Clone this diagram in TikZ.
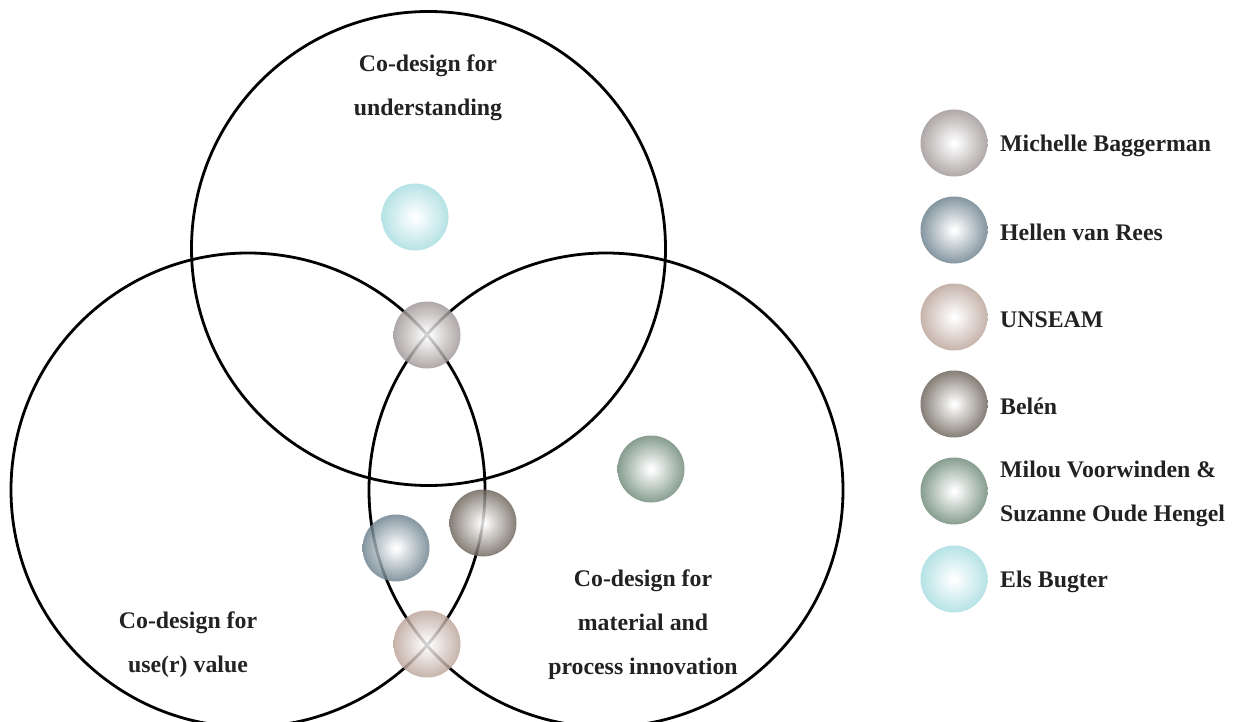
\documentclass[tikz,border=0pt]{standalone}
\usepackage{fontspec}
\setmainfont{Liberation Serif}
\usetikzlibrary{calc}

% sphere shading: white core fading to the colour "bc" at the rim
% (the central 50bp square of a shading is fitted to the path)
\pgfdeclareradialshading[bc]{sphere}{\pgfpoint{0bp}{0bp}}{%
  color(0bp)=(white); color(1bp)=(white); color(25bp)=(bc); color(50bp)=(bc)}

\definecolor{cMichelle}{HTML}{9E9595}
\definecolor{cHellen}{HTML}{6A7F8C}
\definecolor{cUnseam}{HTML}{B9A398}
\definecolor{cBelen}{HTML}{6A6258}
\definecolor{cMilou}{HTML}{6D8877}
\definecolor{cEls}{HTML}{A6DCE0}
\definecolor{txt}{HTML}{222222}

\tikzset{
  setcircle/.style={draw=black, line width=2.8pt},
  sphere/.style={circle, minimum size=67pt, inner sep=0pt,
    shading=sphere, fill opacity=0.82},
  label text/.style={font=\bfseries\fontsize{23.8}{44}\selectfont,
    text=txt, align=center, inner sep=0pt, yshift=-2.5pt},
  legend text/.style={label text, align=left, anchor=west}
}

\newcommand{\ballof}[4]{% name, colour, x, y
  \colorlet{bc}{#2}%
  \node[sphere] (#1) at (#3,#4) {};}

\begin{document}
\begin{tikzpicture}[x=1pt,y=-1pt]
  \useasboundingbox (0,0) rectangle (1236,722);
  \clip (0,0) rectangle (1236,722);

  % the three overlapping fields
  \coordinate (cTop) at (428.5,248.5);
  \coordinate (cLeft) at (248,490);
  \coordinate (cRight) at (606,490);
  \draw[setcircle] (cTop) circle[radius=237];
  \draw[setcircle] (cLeft) circle[radius=237];
  \draw[setcircle] (cRight) circle[radius=237];

  % field titles
  \node[label text] (tTop) at (428,85) {Co-design for\\understanding};
  \node[label text] (tLeft) at (188,642.5) {Co-design for\\use(r) value};
  \node[label text] (tRight) at (643,622) {Co-design for\\material and\\process innovation};

  % partners placed in the fields
  \ballof{pEls}{cEls}{415}{217}
  \ballof{pMichelle}{cMichelle}{427}{335}
  \ballof{pHellen}{cHellen}{396}{548}
  \ballof{pBelen}{cBelen}{483}{523}
  \ballof{pMilou}{cMilou}{651}{469}
  \ballof{pUnseam}{cUnseam}{427}{644}

  % legend
  \ballof{lMichelle}{cMichelle}{954}{143}
  \ballof{lHellen}{cHellen}{954}{230}
  \ballof{lUnseam}{cUnseam}{954}{317}
  \ballof{lBelen}{cBelen}{954}{404}
  \ballof{lMilou}{cMilou}{954}{491}
  \ballof{lEls}{cEls}{954}{579}
  \node[legend text] (nMichelle) at (1000,143) {Michelle Baggerman};
  \node[legend text] (nHellen) at (1000,230) {Hellen van Rees};
  \node[legend text] (nUnseam) at (1000,317) {UNSEAM};
  \node[legend text] (nBelen) at (1000,404) {Belén};
  \node[legend text] (nMilou) at (1000,491.5) {Milou Voorwinden \&\\Suzanne Oude Hengel};
  \node[legend text] (nEls) at (1000,579) {Els Bugter};
\end{tikzpicture}
\end{document}
